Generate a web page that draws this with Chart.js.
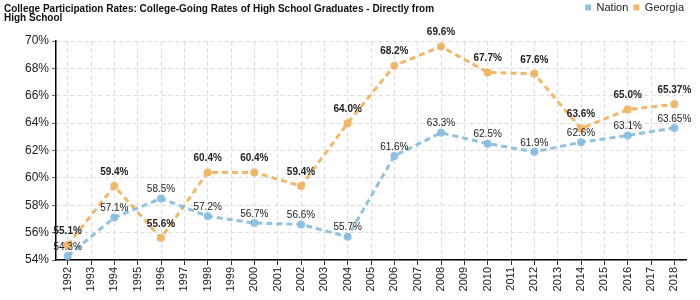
<!DOCTYPE html>
<html>
<head>
<meta charset="utf-8">
<script src="https://cdn.jsdelivr.net/npm/chart.js@4/dist/chart.umd.min.js"></script>
<style>
  html, body { margin: 0; padding: 0; background: #fff; }
  #wrap { width: 700px; height: 300px; }
</style>
</head>
<body>
<div id="wrap"><canvas id="chart" width="700" height="300"></canvas></div>
<script>
// years on the x axis (data only on even years)
const years = ["1992", "1993", "1994", "1995", "1996", "1997", "1998", "1999", "2000", "2001", "2002", "2003", "2004",
  "2005", "2006", "2007", "2008", "2009", "2010", "2011", "2012", "2013", "2014", "2015", "2016", "2017", "2018"];

const nationVals = [54.3, null, 57.1, null, 58.5, null, 57.2, null, 56.7, null, 56.6, null, 55.7, null,
  61.6, null, 63.3, null, 62.5, null, 61.9, null, 62.6, null, 63.1, null, 63.65];
const georgiaVals = [55.1, null, 59.4, null, 55.6, null, 60.4, null, 60.4, null, 59.4, null, 64.0, null,
  68.2, null, 69.6, null, 67.7, null, 67.6, null, 63.6, null, 65.0, null, 65.37];

const nationLabels = ["54.3%", "", "57.1%", "", "58.5%", "", "57.2%", "", "56.7%", "", "56.6%", "", "55.7%", "",
  "61.6%", "", "63.3%", "", "62.5%", "", "61.9%", "", "62.6%", "", "63.1%", "", "63.65%"];
const georgiaLabels = ["55.1%", "", "59.4%", "", "55.6%", "", "60.4%", "", "60.4%", "", "59.4%", "", "64.0%", "",
  "68.2%", "", "69.6%", "", "67.7%", "", "67.6%", "", "63.6%", "", "65.0%", "", "65.37%"];

const titleLines = [
  "College Participation Rates: College-Going Rates of High School Graduates - Directly from",
  "High School"
];

const FONT = "'Liberation Sans', Arial, sans-serif";
const blue = "rgba(133,187,220,0.9)";
const orange = "rgba(240,180,100,0.95)";

// title text in the top-left corner, and a taller legend box
const titlePlugin = {
  id: "titleText",
  beforeUpdate(chart) {
    const lg = chart.legend;
    if (lg && !lg._tallFit) {
      const orig = lg.fit;
      lg.fit = function () { orig.call(this); this.height = 41; };
      lg._tallFit = true;
    }
  },
  afterDraw(chart) {
    const ctx = chart.ctx;
    ctx.save();
    ctx.fillStyle = "#111";
    ctx.font = "bold 10px " + FONT;
    ctx.textBaseline = "alphabetic";
    ctx.textAlign = "left";
    titleLines.forEach((t, i) => ctx.fillText(t, 4, 12 + i * 9));
    ctx.restore();
  }
};

// value labels above points
const valueLabels = {
  id: "valueLabels",
  afterDatasetsDraw(chart) {
    const ctx = chart.ctx;
    const texts = [nationLabels, georgiaLabels];
    const lift = [9, 14];
    const weight = ["normal", "bold"];
    ctx.save();
    ctx.fillStyle = "#222";
    ctx.textAlign = "center";
    ctx.textBaseline = "middle";
    chart.data.datasets.forEach((ds, di) => {
      ctx.font = weight[di] + " 10px " + FONT;
      const meta = chart.getDatasetMeta(di);
      meta.data.forEach((pt, i) => {
        const s = texts[di][i];
        if (!s || ds.data[i] == null) return;
        ctx.fillText(s, pt.x, pt.y - lift[di]);
      });
    });
    ctx.restore();
  }
};

new Chart(document.getElementById("chart"), {
  type: "line",
  data: {
    labels: years,
    datasets: [
      {
        label: "Nation",
        data: nationVals,
        borderColor: blue,
        backgroundColor: blue,
        borderWidth: 3,
        borderDash: [6, 4],
        pointRadius: 4,
        pointBackgroundColor: blue,
        pointBorderWidth: 0,
        spanGaps: true,
        tension: 0
      },
      {
        label: "Georgia",
        data: georgiaVals,
        borderColor: orange,
        backgroundColor: orange,
        borderWidth: 3,
        borderDash: [6, 4],
        pointRadius: 4,
        pointBackgroundColor: orange,
        pointBorderWidth: 0,
        spanGaps: true,
        tension: 0
      }
    ]
  },
  options: {
    responsive: false,
    animation: false,
    layout: { padding: { top: 0, right: 14, bottom: 2, left: 0 } },
    plugins: {
      title: { display: false },
      tooltip: { enabled: false },
      legend: {
        position: "top",
        align: "end",
        labels: {
          boxWidth: 6,
          boxHeight: 6,
          padding: 2,
          color: "#222",
          font: { family: FONT, size: 11 },
          generateLabels(chart) {
            return chart.data.datasets.map((ds, i) => ({
              text: i === 0 ? ds.label + " " : ds.label,
              fillStyle: ds.backgroundColor,
              strokeStyle: ds.backgroundColor,
              lineWidth: 0,
              lineDash: [],
              hidden: false,
              datasetIndex: i,
              fontColor: "#222"
            }));
          }
        }
      }
    },
    scales: {
      x: {
        offset: true,
        grid: {
          offset: false,
          color: "#dddddd",
          tickColor: "#333",
          tickLength: 5,
          lineWidth: 1
        },
        border: { color: "#000", width: 1.5, dash: [4, 3] },
        ticks: {
          autoSkip: false,
          maxRotation: 90,
          minRotation: 90,
          color: "#222",
          padding: 2,
          font: { family: FONT, size: 11 }
        },
        afterFit(s) { s.height = 38; }
      },
      y: {
        min: 54,
        max: 70,
        grid: {
          color: (c) => (c.tick && c.tick.value % 2 === 0 ? "#dddddd" : "rgba(0,0,0,0)"),
          tickColor: (c) => (c.tick && c.tick.value % 2 === 0 ? "#666" : "#e33"),
          tickLength: 4,
          lineWidth: 1
        },
        border: { color: "#000", width: 1.5, dash: [4, 3] },
        ticks: {
          stepSize: 1,
          color: "#222",
          padding: 3,
          font: { family: FONT, size: 12 },
          callback: (v) => (v % 2 === 0 ? v + "%" : "")
        },
        afterFit(s) { s.width = 56; }
      }
    }
  },
  plugins: [titlePlugin, valueLabels]
});
</script>
</body>
</html>
